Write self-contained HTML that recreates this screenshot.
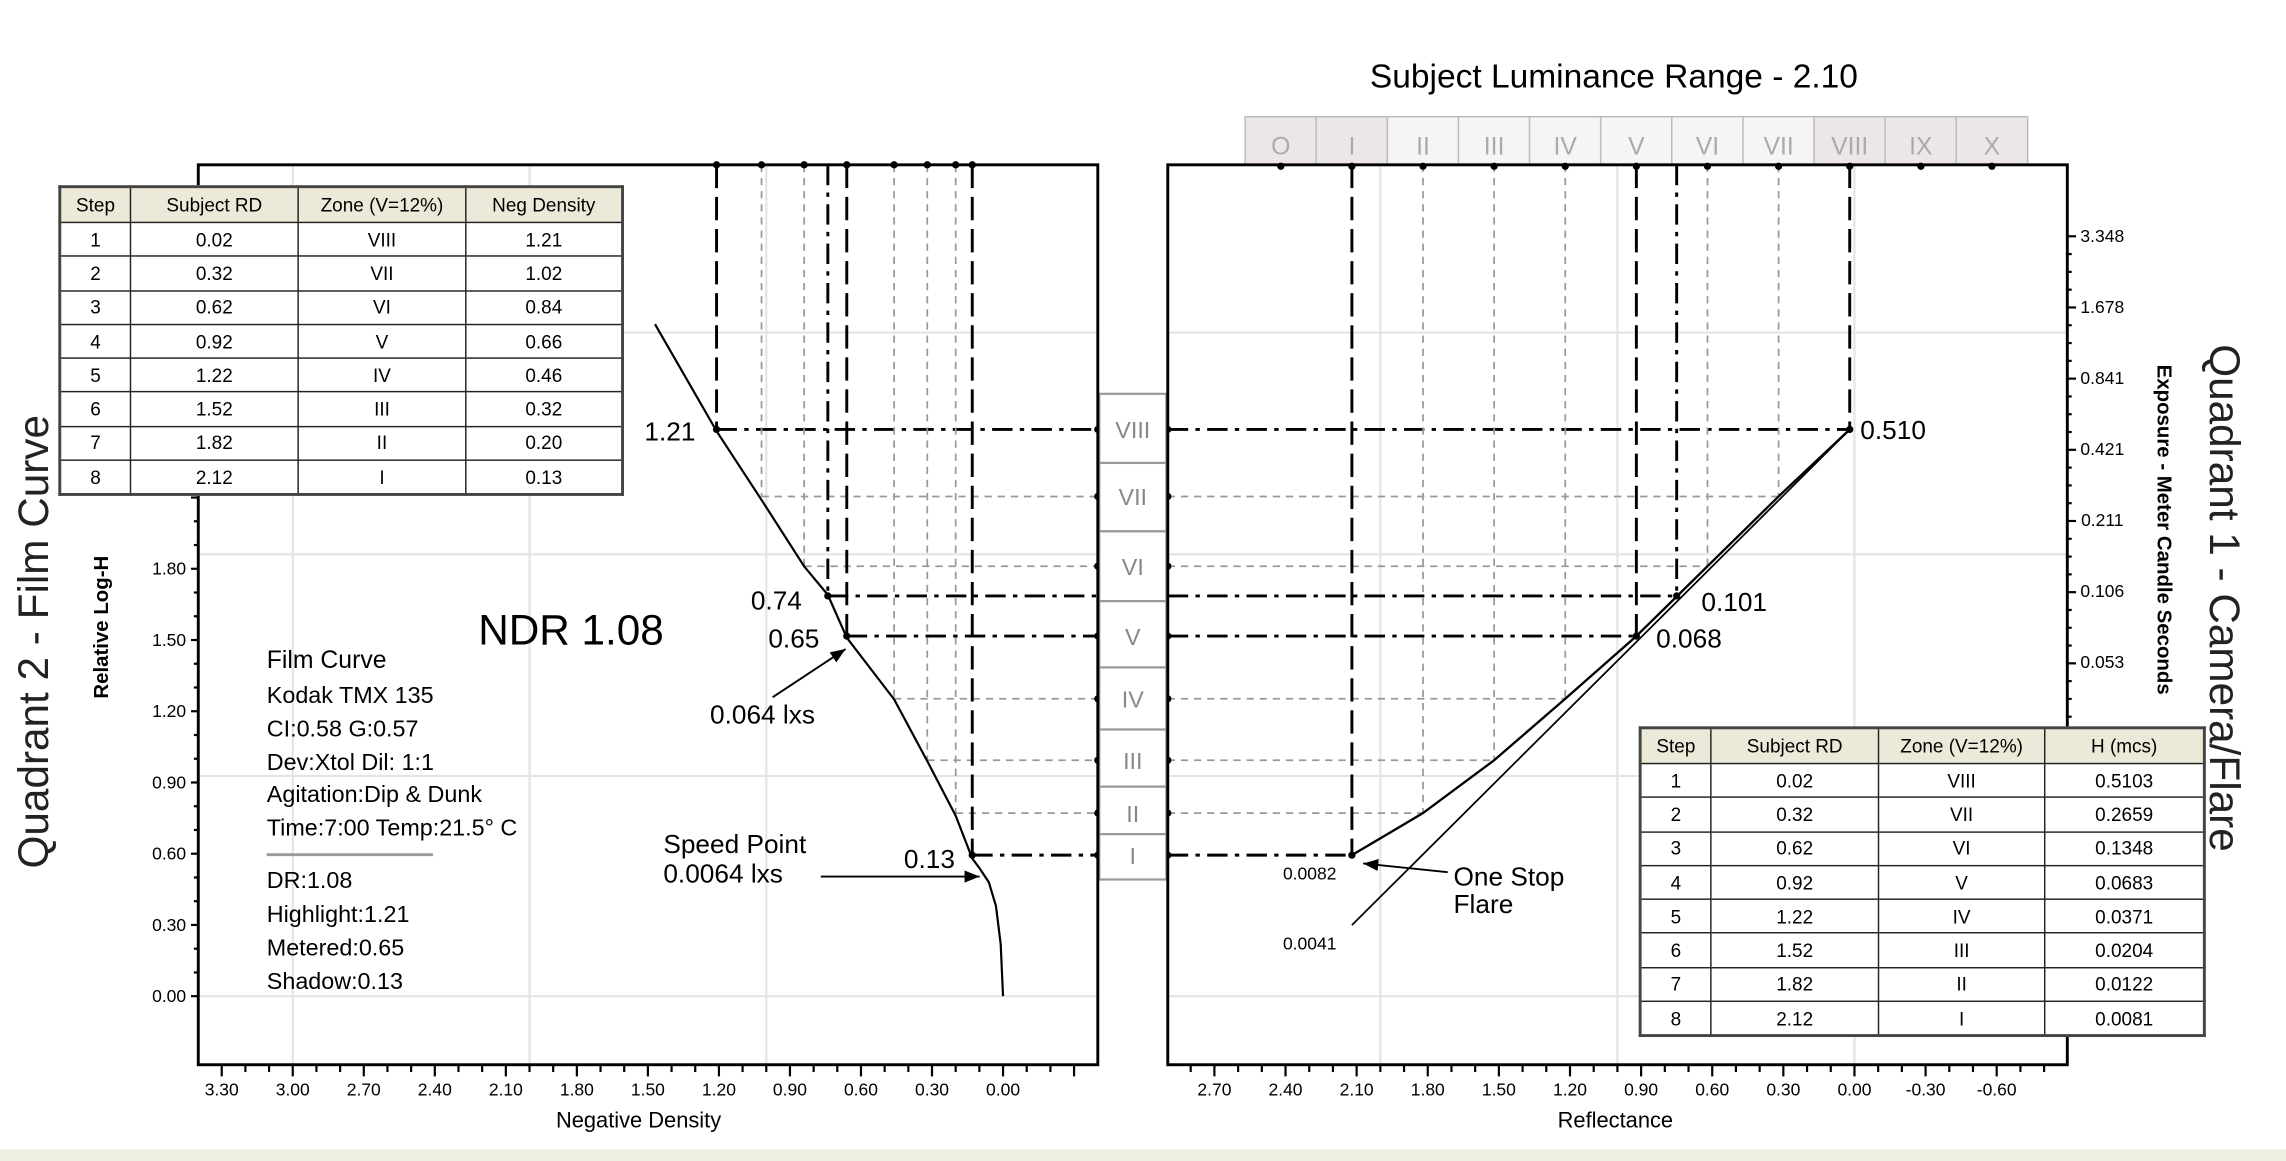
<!DOCTYPE html>
<html><head><meta charset="utf-8"><style>
html,body{margin:0;padding:0;background:#fff;}
#wrap{position:relative;width:1568px;height:796px;transform:scale(1.45791,1.45854);transform-origin:0 0;overflow:hidden;font-family:"Liberation Sans",sans-serif;}
svg{position:absolute;left:0;top:0;}
table.dt{position:absolute;border-collapse:collapse;font-family:"Liberation Sans Narrow","Liberation Sans",sans-serif;font-size:13px;background:#fff;border:2px solid #444;}
table.dt td,table.dt th{border:1.5px solid #222;text-align:center;padding:0;height:22.3px;font-weight:normal;}
table.dt th{background:#ece9d8;height:23px;}
</style></head><body>
<div id="wrap">
<svg id="svg" width="1568" height="796" viewBox="0 0 1568 796">
<defs><marker id="arr" viewBox="0 0 10 10" refX="10" refY="5" markerWidth="8" markerHeight="8" orient="auto"><path d="M0,1 L10,5 L0,9 z" fill="#000"/></marker></defs>
<rect x="0" y="788" width="1568" height="8" fill="#eeeee2"/>
<g id="grid"></g><g id="guides"></g><g id="marks"></g>
<rect x="136" y="113" width="617" height="617" fill="none" stroke="#000" stroke-width="2"/>
<rect x="801" y="113" width="617" height="617" fill="none" stroke="#000" stroke-width="2"/>
<g id="axes"></g>
<text x="1107" y="60" font-size="23" text-anchor="middle">Subject Luminance Range - 2.10</text>
<text transform="translate(33,440) rotate(-90)" font-size="29" text-anchor="middle" fill="#222">Quadrant 2 - Film Curve</text>
<text transform="translate(74,430) rotate(-90)" font-size="14" font-weight="bold" text-anchor="middle">Relative Log-H</text>
<text transform="translate(1516,410) rotate(90)" font-size="29" text-anchor="middle" fill="#222">Quadrant 1 - Camera/Flare</text>
<text transform="translate(1480,250) rotate(90)" font-size="14" font-weight="bold">Exposure - Meter Candle Seconds</text>
<text x="438" y="773" font-size="15" text-anchor="middle">Negative Density</text>
<text x="1108" y="773" font-size="15" text-anchor="middle">Reflectance</text>
<text x="328" y="442" font-size="29">NDR 1.08</text>
<g font-size="16">
<text x="183" y="458" font-size="17">Film Curve</text>
<text x="183" y="482">Kodak TMX 135</text>
<text x="183" y="505">CI:0.58  G:0.57</text>
<text x="183" y="528">Dev:Xtol  Dil: 1:1</text>
<text x="183" y="550">Agitation:Dip &amp; Dunk</text>
<text x="183" y="573">Time:7:00  Temp:21.5° C</text>
<line x1="183" y1="586" x2="297" y2="586" stroke="#999" stroke-width="2"/>
<text x="183" y="609">DR:1.08</text>
<text x="183" y="632">Highlight:1.21</text>
<text x="183" y="655">Metered:0.65</text>
<text x="183" y="678">Shadow:0.13</text>
</g>
<g font-size="18">
<text x="442" y="302">1.21</text>
<text x="515" y="418">0.74</text>
<text x="527" y="444">0.65</text>
<text x="487" y="496">0.064 lxs</text>
<text x="455" y="585">Speed Point</text>
<text x="455" y="605">0.0064 lxs</text>
<text x="620" y="595">0.13</text>
<text x="1276" y="301">0.510</text>
<text x="1167" y="419">0.101</text>
<text x="1136" y="444">0.068</text>
<text x="997" y="607">One Stop</text>
<text x="997" y="626">Flare</text>
<text x="880" y="603" font-size="12">0.0082</text>
<text x="880" y="651" font-size="12">0.0041</text>
</g>
<line x1="530" y1="478" x2="580" y2="445" stroke="#000" stroke-width="1.3" marker-end="url(#arr)"/>
<line x1="563" y1="601" x2="672" y2="601" stroke="#000" stroke-width="1.3" marker-end="url(#arr)"/>
<line x1="993" y1="598" x2="935" y2="592" stroke="#000" stroke-width="1.3" marker-end="url(#arr)"/>
</svg>
<table class="dt" style="left:40px;top:127px;width:388px;">
<tr><th style="width:47px">Step</th><th style="width:114px">Subject RD</th><th style="width:114px">Zone (V=12%)</th><th>Neg Density</th></tr>
<tr><td>1</td><td>0.02</td><td>VIII</td><td>1.21</td></tr>
<tr><td>2</td><td>0.32</td><td>VII</td><td>1.02</td></tr>
<tr><td>3</td><td>0.62</td><td>VI</td><td>0.84</td></tr>
<tr><td>4</td><td>0.92</td><td>V</td><td>0.66</td></tr>
<tr><td>5</td><td>1.22</td><td>IV</td><td>0.46</td></tr>
<tr><td>6</td><td>1.52</td><td>III</td><td>0.32</td></tr>
<tr><td>7</td><td>1.82</td><td>II</td><td>0.20</td></tr>
<tr><td>8</td><td>2.12</td><td>I</td><td>0.13</td></tr>
</table>
<table class="dt" style="left:1124px;top:498px;width:389px;">
<tr><th style="width:47px">Step</th><th style="width:114px">Subject RD</th><th style="width:113px">Zone (V=12%)</th><th>H (mcs)</th></tr>
<tr><td>1</td><td>0.02</td><td>VIII</td><td>0.5103</td></tr>
<tr><td>2</td><td>0.32</td><td>VII</td><td>0.2659</td></tr>
<tr><td>3</td><td>0.62</td><td>VI</td><td>0.1348</td></tr>
<tr><td>4</td><td>0.92</td><td>V</td><td>0.0683</td></tr>
<tr><td>5</td><td>1.22</td><td>IV</td><td>0.0371</td></tr>
<tr><td>6</td><td>1.52</td><td>III</td><td>0.0204</td></tr>
<tr><td>7</td><td>1.82</td><td>II</td><td>0.0122</td></tr>
<tr><td>8</td><td>2.12</td><td>I</td><td>0.0081</td></tr>
</table>
</div>
<script>
const zones = ["VIII","VII","VI","V","IV","III","II","I"];
const negDensity = [1.21,1.02,0.84,0.66,0.46,0.32,0.20,0.13];
const subjectRD = [0.02,0.32,0.62,0.92,1.22,1.52,1.82,2.12];
const hMcs = [0.5103,0.2659,0.1348,0.0683,0.0371,0.0204,0.0122,0.0081];
const meterDensity = 0.74, meterRD = 0.75, meterH = 0.101;
const curveDensity = [0.00,0.01,0.03,0.06,0.10,0.13,0.20,0.32,0.46,0.66,0.74,0.84,1.02,1.21,1.47];
const curveLogH = [0.00,0.22,0.38,0.48,0.54,0.58,0.76,0.99,1.25,1.51,1.69,1.81,2.09,2.38,2.83];
const lineRD = [2.12,0.02];
const lineH = [0.0041,0.510];
const topZones = ["O","I","II","III","IV","V","VI","VII","VIII","IX","X"];
const leftXTicks = ["3.30","3.00","2.70","2.40","2.10","1.80","1.50","1.20","0.90","0.60","0.30","0.00"];
const rightXTicks = ["2.70","2.40","2.10","1.80","1.50","1.20","0.90","0.60","0.30","0.00","-0.30","-0.60"];
const leftYTicks = ["0.00","0.30","0.60","0.90","1.20","1.50","1.80"];
const rightYTicks = ["3.348","1.678","0.841","0.421","0.211","0.106","0.053"];
const boldSteps = [0,3,7];

const NS="http://www.w3.org/2000/svg";
const xD=d=>688-d*162.4, yL=v=>683-v*162.8, xR=r=>1272-r*162.6, yH=h=>308-Math.log10(h/0.421)*162.2;
function mk(parent,tag,a){const e=document.createElementNS(NS,tag);for(const k in a)e.setAttribute(k,a[k]);document.getElementById(parent).appendChild(e);return e;}
const BOLD={stroke:"#000","stroke-width":2,"stroke-dasharray":"14 5 3 5"};
const VB={stroke:"#000","stroke-width":2,"stroke-dasharray":"16 6"};
const GR={stroke:"#999","stroke-width":1.2,"stroke-dasharray":"5 4"};
function L(p,x1,y1,x2,y2,s){return mk(p,"line",Object.assign({x1,y1,x2,y2,fill:"none"},s));}
// faint grid
[683,532,380,228].forEach(y=>{
 let g=L("grid",137,y,752,y,{stroke:"#e4e4e4","stroke-width":1.5});
 
 
 g=L("grid",802,y,1417,y,{stroke:"#e4e4e4","stroke-width":1.5});
 
 
});
[3,2,1].forEach(d=>{const g=L("grid",xD(d),114,xD(d),729,{stroke:"#e4e4e4","stroke-width":1.5});
 
 });
[2,1,0].forEach(r=>{const g=L("grid",xR(r),114,xR(r),729,{stroke:"#e4e4e4","stroke-width":1.5});
 
 });
// step guides
for(let i=0;i<8;i++){
 const b=boldSteps.includes(i), y=yH(hMcs[i]), xl=xD(negDensity[i]), xr=xR(subjectRD[i]);
 let e=L("guides",xl,113,xl,y,b?VB:GR);
 
 
 e=L("guides",xl,y,753,y,b?BOLD:GR);
 
 
 e=L("guides",xr,113,xr,y,b?VB:GR);
 
 
 e=L("guides",801,y,xr,y,b?BOLD:GR);
 
 
 [753,801].forEach(x=>{const c=mk("marks","circle",{cx:x,cy:y,r:2.5,fill:"#000"});
  
  });
 const t=mk("marks","circle",{cx:xl,cy:113,r:2.5,fill:"#000"});
 
 
}
{const y=yH(meterH),xl=xD(meterDensity),xr=xR(meterRD);
 let e=L("guides",xl,113,xl,y,{stroke:"#000","stroke-width":2,"stroke-dasharray":"14 5 3 5"});
 
 
 e=L("guides",xl,y,753,y,BOLD);
 
 
 e=L("guides",xr,113,xr,y,{stroke:"#000","stroke-width":2,"stroke-dasharray":"14 5 3 5"});
 
 
 e=L("guides",801,y,xr,y,BOLD);
 
 }
// middle zone boxes
const ys=hMcs.map(yH);
for(let i=0;i<8;i++){
 const top=i==0?270:(ys[i-1]+ys[i])/2, bot=i==7?603:(ys[i]+ys[i+1])/2;
 const r=mk("marks","rect",{x:754,y:top,width:46,height:bot-top,fill:"#fff",stroke:"#999","stroke-width":1.5});
 
 
 const t=mk("marks","text",{x:777,y:ys[i]+6,"font-size":16,"text-anchor":"middle",fill:"#888"});t.textContent=zones[i];
 
 
}
// top zone scale
topZones.forEach((z,i)=>{const x=xR((8-i)*0.3+0.02);
 const r=mk("marks","rect",{x:x-24.5,y:80,width:49,height:33,fill:(i<2||i>7)?"#ece6ea":"#f6f4f6",stroke:"#bbb","stroke-width":1});
 
 
 const t=mk("marks","text",{x:x,y:106,"font-size":17,"text-anchor":"middle",fill:"#aaa"});t.textContent=z;
 
 
 const c=mk("marks","circle",{cx:x,cy:114,r:2.5,fill:"#000"});
 
 
});
// film curve
{const p=mk("marks","polyline",{points:curveDensity.map((d,i)=>xD(d)+","+yL(curveLogH[i])).join(" "),fill:"none",stroke:"#000","stroke-width":1.5});
 
 }
// flare curve and no-flare line
{const p=mk("marks","polyline",{points:subjectRD.map((r,i)=>xR(r)+","+yH(hMcs[i])).join(" "),fill:"none",stroke:"#000","stroke-width":1.6});
 
 
 const l=mk("marks","polyline",{points:lineRD.map((r,i)=>xR(r)+","+yH(lineH[i])).join(" "),fill:"none",stroke:"#000","stroke-width":1.2});
 
 }
[[xD(1.21),yH(hMcs[0])],[xD(0.74),yH(meterH)],[xD(0.66),yH(hMcs[3])],[xD(0.13),yH(hMcs[7])],[xR(0.02),yH(hMcs[0])],[xR(meterRD),yH(meterH)],[xR(0.92),yH(hMcs[3])],[xR(2.12),yH(hMcs[7])]].forEach(q=>{
 const c=mk("marks","circle",{cx:q[0],cy:q[1],r:2.5,fill:"#000"});
 
 });
// axes ticks
const TF={"font-size":12,"text-anchor":"middle","font-family":"Liberation Sans Narrow, Liberation Sans, sans-serif"};
leftXTicks.forEach(s=>{const d=parseFloat(s),x=xD(d);
 const t=mk("axes","text",Object.assign({x:x,y:751},TF));t.textContent=s;
 
 });
for(let k=-4;k<=36;k++){const x=xD(k/10);if(x<138||x>751)continue;
 const e=L("axes",x,730,x,k%3==0?738:735,{stroke:"#000","stroke-width":1.5});
 
 }
rightXTicks.forEach(s=>{const r=parseFloat(s),x=xR(r);
 const t=mk("axes","text",Object.assign({x:x,y:751},TF));t.textContent=s;
 
 });
for(let k=-8;k<=30;k++){const x=xR(k/10);if(x<803||x>1416)continue;
 const e=L("axes",x,730,x,k%3==0?738:735,{stroke:"#000","stroke-width":1.5});
 
 }
leftYTicks.forEach(s=>{const y=yL(parseFloat(s));
 const t=mk("axes","text",Object.assign({x:116,y:y+4},TF));t.textContent=s;
 
 });
for(let k=0;k<=28;k++){const y=yL(k/10);
 const e=L("axes",k%3==0?131:133,y,136,y,{stroke:"#000","stroke-width":1.5});
 
 }
rightYTicks.forEach(s=>{const y=yH(parseFloat(s));
 const t=mk("axes","text",Object.assign({x:1442,y:y+4},TF));t.textContent=s;
 
 });
for(let k=0;k<40;k++){const y=162+k*12.2;if(y>728)break;
 const e=L("axes",1418,y,k%4==0?1424:1421,y,{stroke:"#000","stroke-width":1.5});
 
 }
</script>
</body></html>
